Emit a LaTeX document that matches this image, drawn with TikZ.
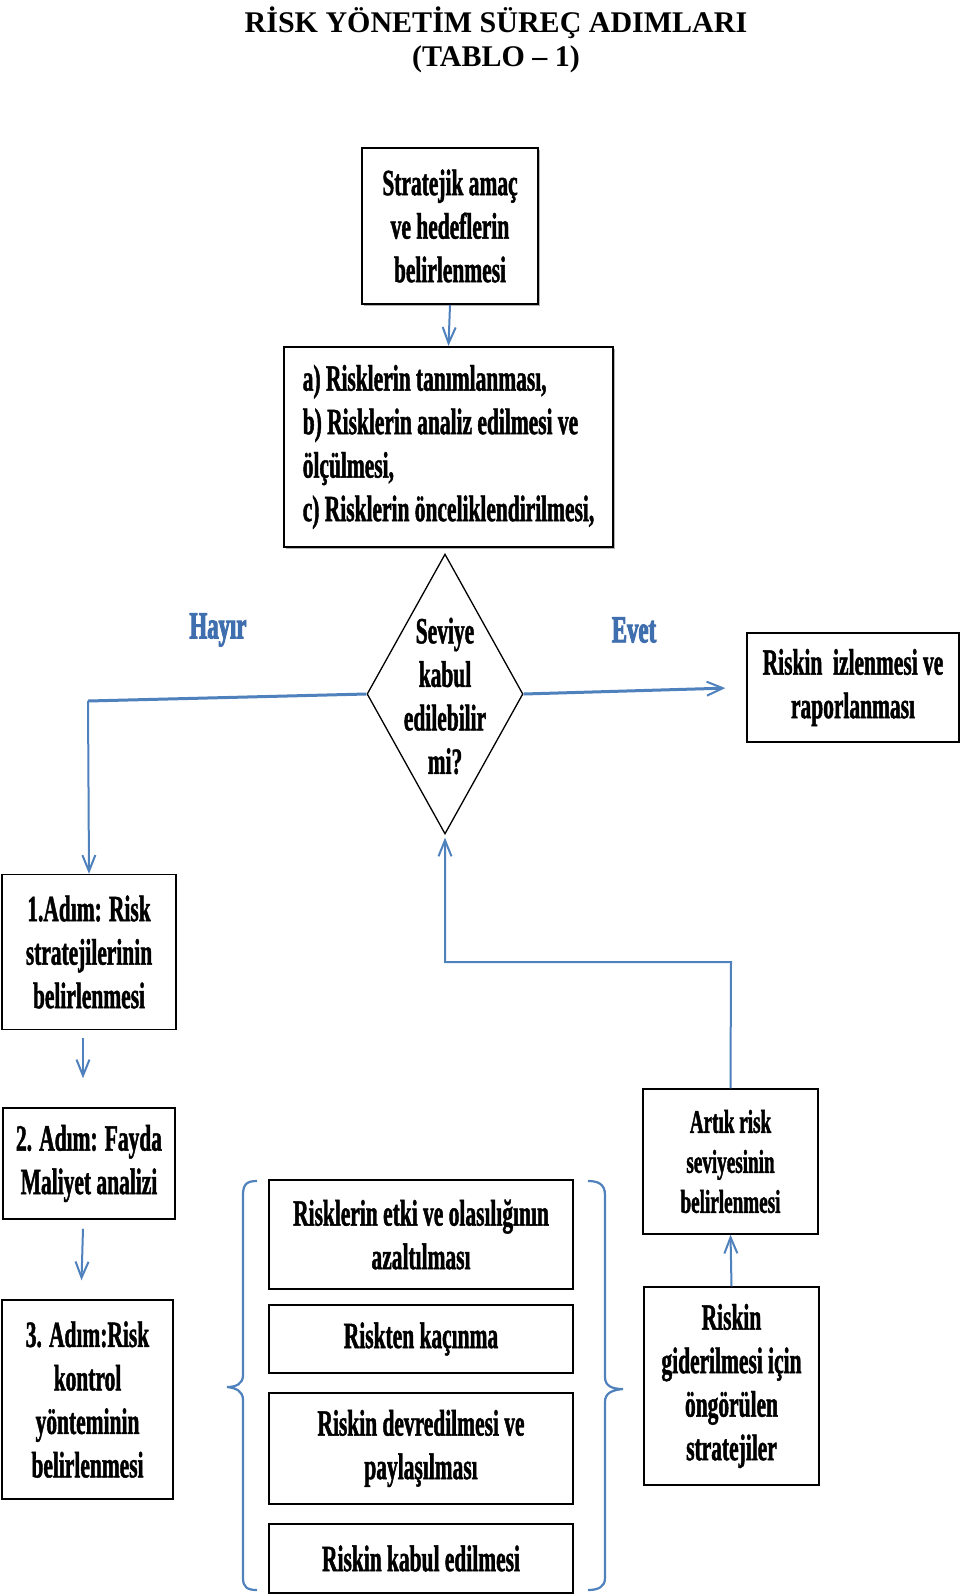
\documentclass[tikz,border=0pt]{standalone}
\usepackage{fontspec}
\setmainfont{Liberation Serif}
\newfontfamily\cond[FakeStretch=0.58,FakeBold=1.2]{Liberation Serif}
\newfontfamily\condl[FakeStretch=0.6,FakeBold=2.5]{Liberation Serif}
\usetikzlibrary{shapes.geometric,arrows.meta,shadows}
\definecolor{lblue}{HTML}{4F81BD}
\definecolor{tblue}{HTML}{3F6FAE}
\tikzset{
  txt/.style={inner sep=0pt, align=center, font=\cond\bfseries\fontsize{37}{43.5}\selectfont},
  smalltxt/.style={inner sep=0pt, align=center, font=\cond\bfseries\fontsize{33}{40}\selectfont},
  box/.style={txt, draw=black, fill=white, line width=1.5pt},
  bigbox/.style={box, line width=2.2pt, drop shadow={shadow xshift=1.6pt, shadow yshift=-1.6pt, fill=gray!60, opacity=1}},
  con/.style={draw=lblue, line width=2pt},
  thickcon/.style={draw=lblue, line width=3pt},
  arr/.style={con, -{Straight Barb[length=16pt,width=13pt]}},
  thickarr/.style={thickcon, -{Straight Barb[length=16pt,width=14pt,line width=2pt]}},
  lbl/.style={inner sep=0pt, text=tblue, font=\condl\bfseries\fontsize{38}{43.5}\selectfont},
  brk/.style={draw=lblue, line width=2.2pt},
  title/.style={inner sep=0pt, anchor=base, font=\bfseries\fontsize{30}{34}\selectfont}
}
\begin{document}
\begin{tikzpicture}[x=1pt,y=-1pt]
\useasboundingbox[fill=white] (0,0) rectangle (960,1596);

% title
\node[title] (t1) at (496,32) {RİSK YÖNETİM SÜREÇ ADIMLARI};
\node[title] (t2) at (496,66) {(TABLO – 1)};

% top boxes
\node[bigbox, minimum width=176pt, minimum height=156pt] (b1) at (450,226) {Stratejik amaç\\ve hedeflerin\\belirlenmesi};
\node[bigbox, minimum width=329pt, minimum height=200pt, align=left] (b2) at (448.5,447) {a) Risklerin tanımlanması,\\b) Risklerin analiz edilmesi ve\\ölçülmesi,\\c) Risklerin önceliklendirilmesi,};

% decision
\node[draw=black, diamond, line width=1.3pt, minimum width=156pt, minimum height=280pt, inner sep=0pt] (d) at (445,694) {};
\node[txt] (dt) at (445,696) {Seviye\\kabul\\edilebilir\\mi?};

\node[lbl] (hy) at (218,630) {Hayır};
\node[lbl] (ev) at (634,630) {Evet};

\node[box, minimum width=212pt, minimum height=109pt] (iz) at (853,687.5) {Riskin~ izlenmesi ve\\raporlanması};

% left column
\node[box, minimum width=174pt, minimum height=155pt] (a1) at (89,952) {1.Adım: Risk\\stratejilerinin\\belirlenmesi};
\node[box, minimum width=172pt, minimum height=111pt] (a2) at (89,1163.5) {2. Adım: Fayda\\Maliyet analizi};
\node[box, minimum width=171pt, minimum height=199pt] (a3) at (87.5,1399.5) {3. Adım:Risk\\kontrol\\yönteminin\\belirlenmesi};

% middle column
\node[box, minimum width=304pt, minimum height=109pt] (m1) at (421,1234.5) {Risklerin etki ve olasılığının\\azaltılması};
\node[box, minimum width=304pt, minimum height=68pt] (m2) at (421,1339) {Riskten kaçınma};
\node[box, minimum width=304pt, minimum height=111pt] (m3) at (421,1448.5) {Riskin devredilmesi ve\\paylaşılması};
\node[box, minimum width=304pt, minimum height=69pt] (m4) at (421,1558.5) {Riskin kabul edilmesi};

% right column
\node[box, smalltxt, minimum width=175pt, minimum height=145pt] (ar) at (730.5,1161.5) {Artık risk\\seviyesinin\\belirlenmesi};
\node[box, minimum width=175pt, minimum height=198pt] (rg) at (731.5,1386) {Riskin\\giderilmesi için\\öngörülen\\stratejiler};

% brackets
\draw[brk] (257,1181) .. controls (247,1181) and (243,1184) .. (243,1195) -- (243,1375)
  .. controls (243,1384) and (236,1387) .. (227,1387)
  .. controls (236,1388) and (243,1391) .. (243,1400) -- (243,1578)
  .. controls (243,1587) and (247,1590) .. (257,1590);
\draw[brk] (588,1181) .. controls (598,1181) and (605,1184) .. (605,1195) -- (605,1377)
  .. controls (605,1386) and (612,1389) .. (623,1389)
  .. controls (612,1390) and (605,1393) .. (605,1402) -- (605,1578)
  .. controls (605,1587) and (598,1590) .. (588,1590);

% connectors
\draw[arr] (b1.south) -- (b2.north);
\coordinate (hc) at (88,701);
\draw[thickcon] (d.west) -- (hc);
\draw[arr] (hc) -- (a1.north);
\draw[thickarr, shorten >=21pt] (d.east) -- (iz.west);
\draw[arr] ([shift={(-6,8)}]a1.south) -- ([shift={(-6,-29)}]a2.north);
\draw[arr] ([shift={(-6,9)}]a2.south) -- ([shift={(-6,-19)}]a3.north);
\draw[arr] (rg.north) -- (ar.south);
\coordinate (f1) at (731,962);
\coordinate (f2) at (445,962);
\draw[arr, shorten >=3pt] (ar.north) -- (f1) -- (f2) -- (d.south);
\end{tikzpicture}
\end{document}
